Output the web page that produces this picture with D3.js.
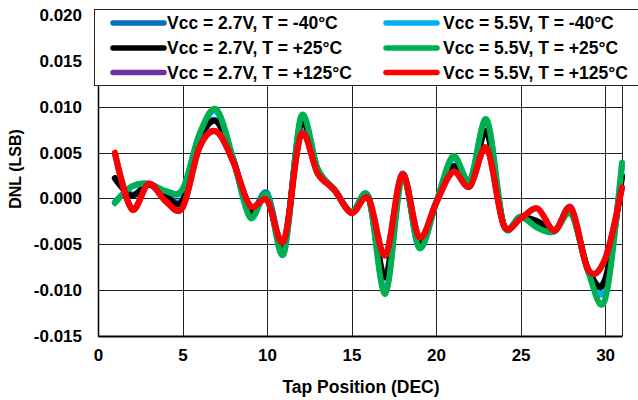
<!DOCTYPE html>
<html>
<head>
<meta charset="utf-8">
<script src="https://cdn.jsdelivr.net/npm/d3@7"></script>
<style>
  body { margin: 0; background: #fff; }
  svg text { font-family: "Liberation Sans", Arial, sans-serif; font-weight: bold; fill: #000; }
</style>
</head>
<body>
<div id="chart"><svg width="638" height="400"></svg></div>
<script>
// tap positions 1..31
const taps = d3.range(1, 32);

const v27m40 = [0.0022, 0.0004, 0.0015, 0.0004, -0.0001, 0.0064, 0.0085, 0.0043, -0.0014, 0.0006,
  -0.0051, 0.0082, 0.0031, 0.0009, -0.0015, 0.0002, -0.0085, 0.0026, -0.0049, -0.0004,
  0.0034, 0.0015, 0.0072, -0.0029, -0.0020, -0.0027, -0.0035, -0.0015, -0.0077, -0.0088, 0.0025];
const v55m40 = [-0.0004, 0.0013, 0.0016, 0.0008, 0.0009, 0.0069, 0.0095, 0.0043, -0.0019, 0.0004,
  -0.0058, 0.0087, 0.0032, 0.0009, -0.0015, 0.0002, -0.0101, 0.0025, -0.0053, -0.0005,
  0.0044, 0.0019, 0.0084, -0.0029, -0.0020, -0.0031, -0.0036, -0.0016, -0.0079, -0.0098, 0.0036];
const v27p25 = [0.0022, 0.0003, 0.0015, 0.0003, -0.0003, 0.0063, 0.0084, 0.0042, -0.0015, 0.0001,
  -0.0052, 0.0082, 0.0030, 0.0009, -0.0015, 0.0001, -0.0086, 0.0025, -0.0050, -0.0005,
  0.0035, 0.0015, 0.0073, -0.0029, -0.0020, -0.0025, -0.0035, -0.0015, -0.0078, -0.0089, 0.0024];
const v55p25 = [-0.0005, 0.0013, 0.0016, 0.0008, 0.0010, 0.0070, 0.0097, 0.0043, -0.0021, 0.0004,
  -0.0060, 0.0089, 0.0032, 0.0009, -0.0015, 0.0002, -0.0104, 0.0024, -0.0054, -0.0005,
  0.0046, 0.0020, 0.0086, -0.0029, -0.0020, -0.0032, -0.0036, -0.0017, -0.0080, -0.0110, 0.0039];
const v27p125 = [0.0049, -0.0011, 0.0016, -0.0003, -0.0010, 0.0056, 0.0073, 0.0040, -0.0008, -0.0002,
  -0.0046, 0.0070, 0.0027, 0.0009, -0.0016, 0.0000, -0.0062, 0.0027, -0.0042, -0.0005,
  0.0029, 0.0013, 0.0055, -0.0029, -0.0022, -0.0011, -0.0035, -0.0010, -0.0078, -0.0066, 0.0012];
const v55p125 = [0.0050, -0.0012, 0.0016, -0.0003, -0.0010, 0.0055, 0.0073, 0.0040, -0.0008, -0.0002,
  -0.0046, 0.0069, 0.0027, 0.0009, -0.0016, 0.0000, -0.0062, 0.0026, -0.0042, -0.0005,
  0.0029, 0.0013, 0.0055, -0.0029, -0.0022, -0.0011, -0.0035, -0.0011, -0.0078, -0.0066, 0.0012];

const seriesNames = [
  "Vcc = 2.7V, T = -40°C", "Vcc = 5.5V, T = -40°C",
  "Vcc = 2.7V, T = +25°C", "Vcc = 5.5V, T = +25°C",
  "Vcc = 2.7V, T = +125°C", "Vcc = 5.5V, T = +125°C"
];
const seriesColors = ["#0070c0", "#00b0f0", "#000000", "#00b050", "#7030a0", "#ff0000"];
const seriesValues = [v27m40, v55m40, v27p25, v55p25, v27p125, v55p125];

const xTicks = [0, 5, 10, 15, 20, 25, 30];
const yTicks = [-0.015, -0.010, -0.005, 0.000, 0.005, 0.010, 0.015, 0.020];

const plotLeft = 98, plotRight = 622, plotTop = 15, plotBottom = 336;

const svg = d3.select("#chart svg");

const x = d3.scaleLinear().domain([0, 31]).range([plotLeft, plotRight]);
const y = d3.scaleLinear().domain([-0.015, 0.020]).range([plotBottom, plotTop]);

// grid
svg.append("g")
  .selectAll("line")
  .data(yTicks)
  .enter()
  .append("line")
  .attr("x1", plotLeft).attr("x2", plotRight)
  .attr("y1", d => Math.round(y(d)) + 0.5).attr("y2", d => Math.round(y(d)) + 0.5)
  .attr("stroke", "#222").attr("stroke-width", 1);

svg.append("g")
  .selectAll("line")
  .data(xTicks.filter(d => d > 0).concat([31]))
  .enter()
  .append("line")
  .attr("x1", d => Math.round(x(d)) + 0.5).attr("x2", d => Math.round(x(d)) + 0.5)
  .attr("y1", plotTop).attr("y2", plotBottom)
  .attr("stroke", "#222").attr("stroke-width", 1);

// axes (no tick marks, only labels)
const xAxis = svg.append("g")
  .attr("transform", `translate(0, ${plotBottom})`)
  .call(d3.axisBottom(x).tickValues(xTicks).tickSize(0).tickPadding(10).tickFormat(d3.format("d")));
xAxis.select(".domain").attr("stroke", "#000").attr("stroke-width", 2);
xAxis.selectAll("text").style("font-size", "17px").attr("dy", "0.9em");

const yAxis = svg.append("g")
  .attr("transform", `translate(${plotLeft}, 0)`)
  .call(d3.axisLeft(y).tickValues(yTicks).tickSize(0).tickPadding(16).tickFormat(d => d.toFixed(3)));
yAxis.select(".domain").attr("stroke", "#000").attr("stroke-width", 1.5);
yAxis.selectAll("text").style("font-size", "17px");

svg.append("text")
  .attr("x", (plotLeft + plotRight) / 2 + 1)
  .attr("y", 393)
  .attr("text-anchor", "middle")
  .style("font-size", "17.5px")
  .text("Tap Position (DEC)");

svg.append("text")
  .attr("transform", "translate(21, 169) rotate(-90)")
  .attr("text-anchor", "middle")
  .style("font-size", "16px")
  .text("DNL (LSB)");

// curves, Excel-like smoothing
const line = d3.line()
  .x((d, i) => x(taps[i]))
  .y(d => y(d))
  .curve(d3.curveCardinal.tension(0));

svg.append("g")
  .selectAll("path")
  .data(seriesValues)
  .enter()
  .append("path")
  .attr("d", line)
  .attr("fill", "none")
  .attr("stroke", (d, i) => seriesColors[i])
  .attr("stroke-width", 6)
  .attr("stroke-linejoin", "round")
  .attr("stroke-linecap", "round");

// legend over the top of the plot
const legend = svg.append("g");
legend.append("rect")
  .attr("x", 94.5).attr("y", 9.5)
  .attr("width", 560).attr("height", 76)
  .attr("fill", "#fff").attr("stroke", "#222").attr("stroke-width", 1);

const colX = [113, 386];
const rowY = [23, 48, 72.5];

const items = legend.selectAll("g.item")
  .data(seriesNames)
  .enter()
  .append("g")
  .attr("class", "item")
  .attr("transform", (d, i) => `translate(${colX[i % 2]}, ${rowY[Math.floor(i / 2)]})`);

items.append("line")
  .attr("x1", 0).attr("x2", 51)
  .attr("y1", 0).attr("y2", 0)
  .attr("stroke", (d, i) => seriesColors[i])
  .attr("stroke-width", 5.5)
  .attr("stroke-linecap", "round");

items.append("text")
  .attr("x", (d, i) => i % 2 ? 57 : 54)
  .attr("y", 6)
  .style("font-size", "17.5px")
  .text(d => d);
</script>
</body>
</html>
